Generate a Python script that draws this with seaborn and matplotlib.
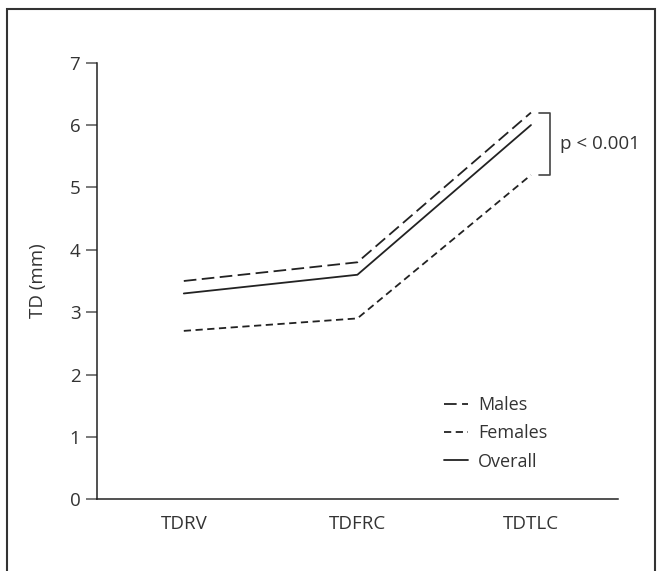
import matplotlib
matplotlib.use("Agg")
import matplotlib.pyplot as plt
import seaborn as sns
import pandas as pd
from matplotlib.patches import Rectangle
from matplotlib.lines import Line2D

categories = ["TDRV", "TDFRC", "TDTLC"]
males = [3.5, 3.8, 6.2]
females = [2.7, 2.9, 5.2]
overall = [3.3, 3.6, 6.0]
series_names = ["Males", "Females", "Overall"]
y_ticks = [0, 1, 2, 3, 4, 5, 6, 7]
p_text = "p < 0.001"

sns.set_theme(style="white")
plt.rcParams["font.family"] = ["Open Sans", "DejaVu Sans"]

rows = []
for name, vals in zip(series_names, [males, females, overall]):
    for i, (c, v) in enumerate(zip(categories, vals)):
        rows.append({"pos": i, "cat": c, "value": v, "series": name})
df = pd.DataFrame(rows)

fig = plt.figure(figsize=(6.6, 5.71), dpi=100)
ax = fig.add_axes([0.147, 0.1256, 0.789, 0.7646])

dashes = {"Males": (7, 3), "Females": (4, 2.5), "Overall": ""}
sns.lineplot(data=df, x="pos", y="value", style="series", dashes=dashes,
             color="#222222", linewidth=1.3, legend=False, ax=ax,
             style_order=series_names)

fs = 13.5
ax.set_xlim(-0.5, 2.5)
ax.set_ylim(0, 7)
ax.set_yticks(y_ticks)
ax.set_yticklabels([str(t) for t in y_ticks], fontsize=fs, color="#333333")
ax.set_xticks([0, 1, 2])
ax.set_xticklabels(categories, fontsize=fs, color="#333333")
ax.set_xticks([-0.5, 0.5, 1.5, 2.5], minor=True)
ax.tick_params(axis="x", which="major", length=0, pad=11)
ax.tick_params(axis="x", which="minor", length=8, width=1.1, color="#444444", direction="out")
ax.tick_params(axis="y", which="major", length=8, width=1.1, color="#555555", direction="out", pad=4, left=True)
ax.set_xlabel("")
ax.set_ylabel("TD (mm)", fontsize=fs, color="#333333", labelpad=16)
for s in ["top", "right"]:
    ax.spines[s].set_visible(False)
for s in ["left", "bottom"]:
    ax.spines[s].set_color("#222222")
    ax.spines[s].set_linewidth(1.1)

# significance bracket
bx0, bx1 = 2.046, 2.11
ax.plot([bx0, bx1, bx1, bx0], [males[2], males[2], females[2], females[2]],
        color="#444444", linewidth=1.2, clip_on=False)
ax.text(2.165, (males[2] + females[2]) / 2, p_text, fontsize=fs, color="#333333",
        va="center", ha="left")

handles = [Line2D([], [], color="#222222", linewidth=1.3, dashes=dashes[n]) if dashes[n]
           else Line2D([], [], color="#222222", linewidth=1.3) for n in series_names]
leg = ax.legend(handles, series_names, loc="upper left", bbox_to_anchor=(0.652, 0.253),
                frameon=False, fontsize=13, handlelength=1.35, handletextpad=0.55,
                labelspacing=0.57, borderaxespad=0)
for t in leg.get_texts():
    t.set_color("#333333")

fig.patches.append(Rectangle((7 / 660, -0.1), 648 / 660, 1.1 - 9 / 571,
                             transform=fig.transFigure, fill=False,
                             edgecolor="#333333", linewidth=1.5))

fig.savefig("out.png", dpi=100)
